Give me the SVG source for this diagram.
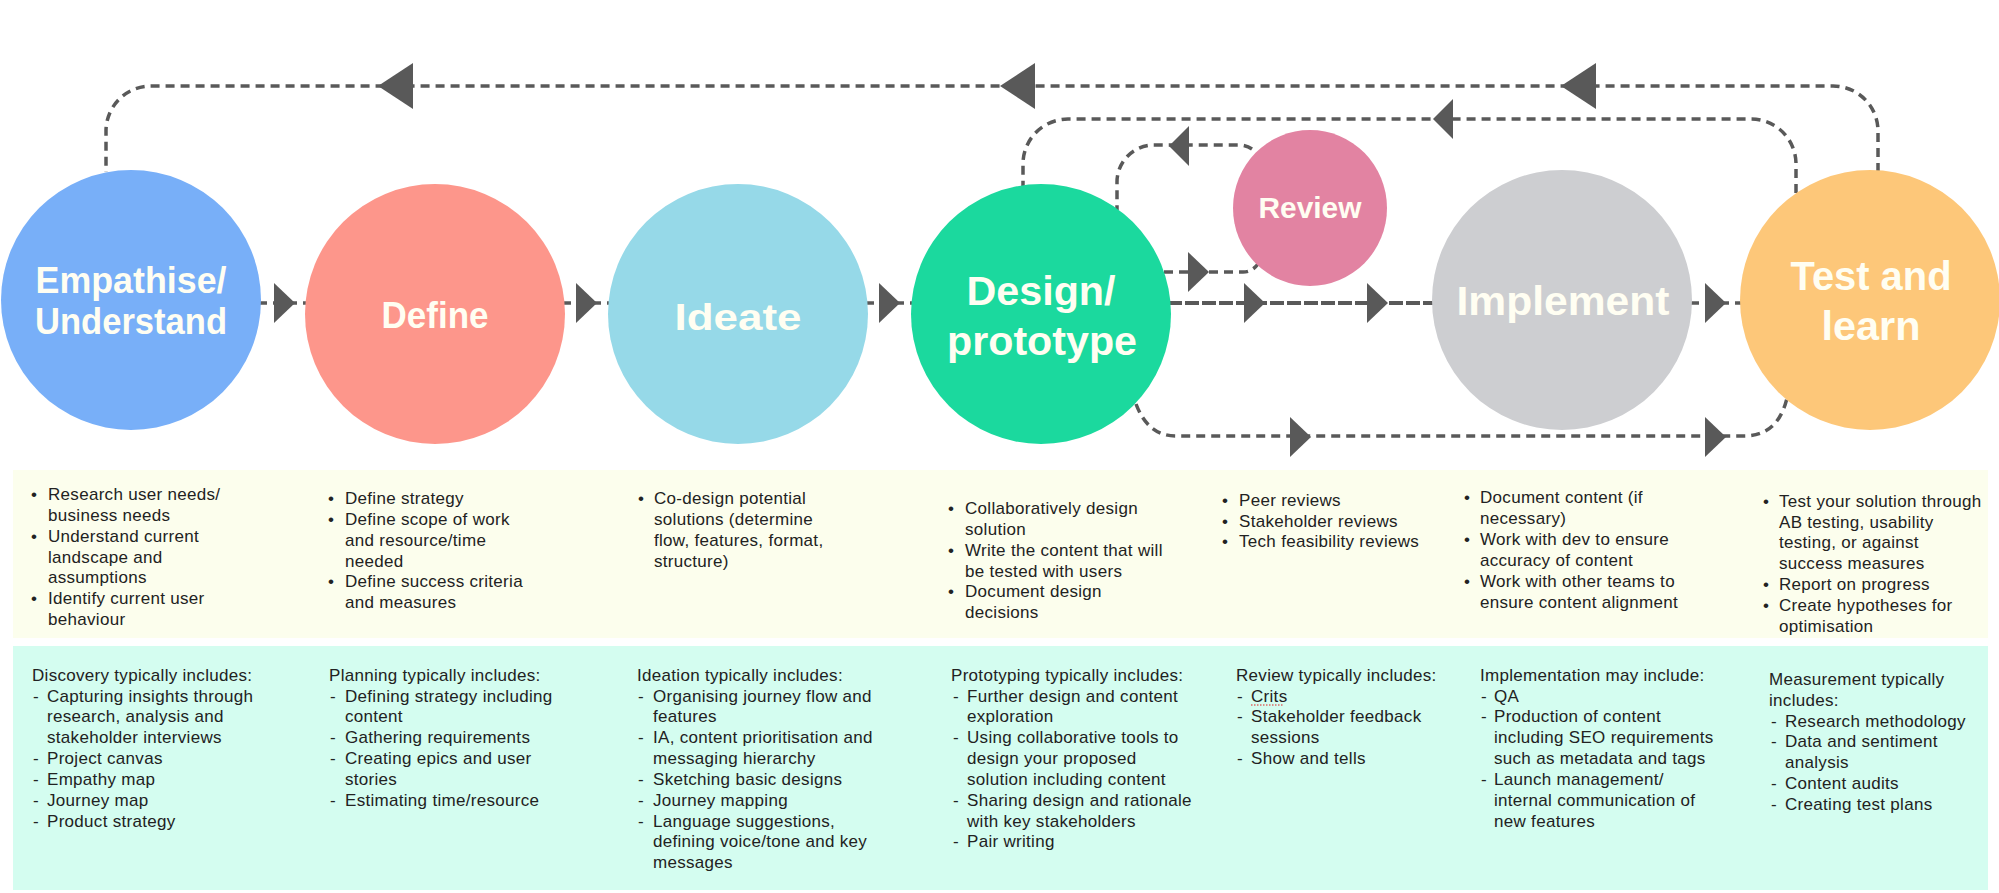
<svg xmlns="http://www.w3.org/2000/svg" xmlns:xlink="http://www.w3.org/1999/xlink" width="1999" height="893" viewBox="0 0 1999 893">
<style>
.ln{fill:none;stroke:#595959;stroke-width:3.5;stroke-dasharray:9 6}
.ln2{fill:none;stroke:#595959;stroke-width:3.8;stroke-dasharray:14 3}
.ah{fill:#595959}
.ttl{font-family:"Liberation Sans",Arial,sans-serif;font-weight:bold;fill:#FFFEF2;text-anchor:middle}
.t{font-family:"Liberation Sans",Arial,sans-serif;font-size:17px;letter-spacing:0.3px;fill:#222}
</style>
<defs>
<path id="aR" d="M0,0 L-21,-20 L-21,20 Z"/>
<path id="aL" d="M0,0 L20,-20 L20,20 Z"/>
<path id="aLB" d="M0,0 L35,-23 L35,23 Z"/>
</defs>
<rect x="0" y="0" width="1999" height="893" fill="#ffffff"/>
<rect x="13" y="470" width="1975" height="168" fill="#FCFEED"/>
<rect x="13" y="646" width="1975" height="244" fill="#D4FDF0"/>

<g id="connectors">
<path class="ln" d="M1878,172 V131 A45,45 0 0 0 1833,86 H151 A45,45 0 0 0 106,131 V172"/>
<path class="ln" d="M1796,193 V164 A45,45 0 0 0 1751,119 H1068 A45,45 0 0 0 1023,164 V186"/>
<path class="ln" d="M1252,149 Q1246,145 1238,145 H1154 A37,37 0 0 0 1117,182 V210"/>
<path class="ln" d="M1164,272 H1243 Q1252,272 1258,264"/>
<path class="ln" d="M258,303 H308 M562,303 H611 M865,303 H914 M1690,303 H1743"/>
<path class="ln2" d="M1168,303 H1435"/>
<path class="ln" d="M1136,404 Q1148,436 1176,436 H1744 Q1778,436 1787,398"/>
<use xlink:href="#aLB" class="ah" x="378" y="86"/>
<use xlink:href="#aLB" class="ah" x="1000" y="86"/>
<use xlink:href="#aLB" class="ah" x="1561" y="86"/>
<use xlink:href="#aL" class="ah" x="1433" y="119"/>
<use xlink:href="#aL" class="ah" x="1169" y="146"/>
<use xlink:href="#aR" class="ah" x="1209" y="272"/>
<use xlink:href="#aR" class="ah" x="295" y="303"/>
<use xlink:href="#aR" class="ah" x="597" y="303"/>
<use xlink:href="#aR" class="ah" x="900" y="303"/>
<use xlink:href="#aR" class="ah" x="1265" y="303"/>
<use xlink:href="#aR" class="ah" x="1388" y="303"/>
<use xlink:href="#aR" class="ah" x="1726" y="303"/>
<use xlink:href="#aR" class="ah" x="1311" y="437"/>
<use xlink:href="#aR" class="ah" x="1726" y="437"/>
</g>

<g id="node-empathise">
<circle cx="131" cy="300" r="130" fill="#78AFF8"/>
<text class="ttl" font-size="36" x="131" y="293" textLength="191" lengthAdjust="spacingAndGlyphs">Empathise/</text>
<text class="ttl" font-size="36" x="131" y="334" textLength="192" lengthAdjust="spacingAndGlyphs">Understand</text>
</g>
<g id="node-define">
<circle cx="435" cy="314" r="130" fill="#FD968B"/>
<text class="ttl" font-size="36" x="435" y="328" textLength="107" lengthAdjust="spacingAndGlyphs">Define</text>
</g>
<g id="node-ideate">
<circle cx="738" cy="314" r="130" fill="#96D9E8"/>
<text class="ttl" font-size="36" x="738" y="330" textLength="127" lengthAdjust="spacingAndGlyphs">Ideate</text>
</g>
<g id="node-design">
<circle cx="1041" cy="314" r="130" fill="#1BD99E"/>
<text class="ttl" font-size="41" x="1041" y="305" textLength="149" lengthAdjust="spacingAndGlyphs">Design/</text>
<text class="ttl" font-size="41" x="1042" y="355" textLength="190" lengthAdjust="spacingAndGlyphs">prototype</text>
</g>
<g id="node-review">
<ellipse cx="1310" cy="208" rx="77" ry="78" fill="#E283A2"/>
<text class="ttl" font-size="29" x="1310" y="218" textLength="103" lengthAdjust="spacingAndGlyphs">Review</text>
</g>
<g id="node-implement">
<circle cx="1562" cy="300" r="130" fill="#CDCED1"/>
<text class="ttl" font-size="41" x="1563" y="315" textLength="213" lengthAdjust="spacingAndGlyphs">Implement</text>
</g>
<g id="node-test">
<circle cx="1870" cy="300" r="130" fill="#FDC779"/>
<text class="ttl" font-size="40" x="1871" y="290" textLength="161" lengthAdjust="spacingAndGlyphs">Test and</text>
<text class="ttl" font-size="40" x="1871" y="340" textLength="99" lengthAdjust="spacingAndGlyphs">learn</text>
</g>

<g id="activities">
<text class="t"><tspan x="31" y="500">•</tspan><tspan x="48" y="500">Research user needs/</tspan><tspan x="48" y="521">business needs</tspan><tspan x="31" y="542">•</tspan><tspan x="48" y="542">Understand current</tspan><tspan x="48" y="563">landscape and</tspan><tspan x="48" y="583">assumptions</tspan><tspan x="31" y="604">•</tspan><tspan x="48" y="604">Identify current user</tspan><tspan x="48" y="625">behaviour</tspan></text>
<text class="t"><tspan x="328" y="504">•</tspan><tspan x="345" y="504">Define strategy</tspan><tspan x="328" y="525">•</tspan><tspan x="345" y="525">Define scope of work</tspan><tspan x="345" y="546">and resource/time</tspan><tspan x="345" y="567">needed</tspan><tspan x="328" y="587">•</tspan><tspan x="345" y="587">Define success criteria</tspan><tspan x="345" y="608">and measures</tspan></text>
<text class="t"><tspan x="638" y="504">•</tspan><tspan x="654" y="504">Co-design potential</tspan><tspan x="654" y="525">solutions (determine</tspan><tspan x="654" y="546">flow, features, format,</tspan><tspan x="654" y="567">structure)</tspan></text>
<text class="t"><tspan x="948" y="514">•</tspan><tspan x="965" y="514">Collaboratively design</tspan><tspan x="965" y="535">solution</tspan><tspan x="948" y="556">•</tspan><tspan x="965" y="556">Write the content that will</tspan><tspan x="965" y="577">be tested with users</tspan><tspan x="948" y="597">•</tspan><tspan x="965" y="597">Document design</tspan><tspan x="965" y="618">decisions</tspan></text>
<text class="t"><tspan x="1222" y="506">•</tspan><tspan x="1239" y="506">Peer reviews</tspan><tspan x="1222" y="527">•</tspan><tspan x="1239" y="527">Stakeholder reviews</tspan><tspan x="1222" y="547">•</tspan><tspan x="1239" y="547">Tech feasibility reviews</tspan></text>
<text class="t"><tspan x="1464" y="503">•</tspan><tspan x="1480" y="503">Document content (if</tspan><tspan x="1480" y="524">necessary)</tspan><tspan x="1464" y="545">•</tspan><tspan x="1480" y="545">Work with dev to ensure</tspan><tspan x="1480" y="566">accuracy of content</tspan><tspan x="1464" y="587">•</tspan><tspan x="1480" y="587">Work with other teams to</tspan><tspan x="1480" y="608">ensure content alignment</tspan></text>
<text class="t"><tspan x="1763" y="507">•</tspan><tspan x="1779" y="507">Test your solution through</tspan><tspan x="1779" y="528">AB testing, usability</tspan><tspan x="1779" y="548">testing, or against</tspan><tspan x="1779" y="569">success measures</tspan><tspan x="1763" y="590">•</tspan><tspan x="1779" y="590">Report on progress</tspan><tspan x="1763" y="611">•</tspan><tspan x="1779" y="611">Create hypotheses for</tspan><tspan x="1779" y="632">optimisation</tspan></text>
</g>

<g id="includes">
<text class="t"><tspan x="32" y="681">Discovery typically includes:</tspan><tspan x="33" y="702">-</tspan><tspan x="47" y="702">Capturing insights through</tspan><tspan x="47" y="722">research, analysis and</tspan><tspan x="47" y="743">stakeholder interviews</tspan><tspan x="33" y="764">-</tspan><tspan x="47" y="764">Project canvas</tspan><tspan x="33" y="785">-</tspan><tspan x="47" y="785">Empathy map</tspan><tspan x="33" y="806">-</tspan><tspan x="47" y="806">Journey map</tspan><tspan x="33" y="827">-</tspan><tspan x="47" y="827">Product strategy</tspan></text>
<text class="t"><tspan x="329" y="681">Planning typically includes:</tspan><tspan x="330" y="702">-</tspan><tspan x="345" y="702">Defining strategy including</tspan><tspan x="345" y="722">content</tspan><tspan x="330" y="743">-</tspan><tspan x="345" y="743">Gathering requirements</tspan><tspan x="330" y="764">-</tspan><tspan x="345" y="764">Creating epics and user</tspan><tspan x="345" y="785">stories</tspan><tspan x="330" y="806">-</tspan><tspan x="345" y="806">Estimating time/resource</tspan></text>
<text class="t"><tspan x="637" y="681">Ideation typically includes:</tspan><tspan x="638" y="702">-</tspan><tspan x="653" y="702">Organising journey flow and</tspan><tspan x="653" y="722">features</tspan><tspan x="638" y="743">-</tspan><tspan x="653" y="743">IA, content prioritisation and</tspan><tspan x="653" y="764">messaging hierarchy</tspan><tspan x="638" y="785">-</tspan><tspan x="653" y="785">Sketching basic designs</tspan><tspan x="638" y="806">-</tspan><tspan x="653" y="806">Journey mapping</tspan><tspan x="638" y="827">-</tspan><tspan x="653" y="827">Language suggestions,</tspan><tspan x="653" y="847">defining voice/tone and key</tspan><tspan x="653" y="868">messages</tspan></text>
<text class="t"><tspan x="951" y="681">Prototyping typically includes:</tspan><tspan x="953" y="702">-</tspan><tspan x="967" y="702">Further design and content</tspan><tspan x="967" y="722">exploration</tspan><tspan x="953" y="743">-</tspan><tspan x="967" y="743">Using collaborative tools to</tspan><tspan x="967" y="764">design your proposed</tspan><tspan x="967" y="785">solution including content</tspan><tspan x="953" y="806">-</tspan><tspan x="967" y="806">Sharing design and rationale</tspan><tspan x="967" y="827">with key stakeholders</tspan><tspan x="953" y="847">-</tspan><tspan x="967" y="847">Pair writing</tspan></text>
<text class="t"><tspan x="1236" y="681">Review typically includes:</tspan><tspan x="1237" y="702">-</tspan><tspan x="1251" y="702">Crits</tspan><tspan x="1237" y="722">-</tspan><tspan x="1251" y="722">Stakeholder feedback</tspan><tspan x="1251" y="743">sessions</tspan><tspan x="1237" y="764">-</tspan><tspan x="1251" y="764">Show and tells</tspan></text>
<line x1="1251" y1="705" x2="1284" y2="705" stroke="#E02020" stroke-width="1.2" stroke-dasharray="1.5 1.5"/>
<text class="t"><tspan x="1480" y="681">Implementation may include:</tspan><tspan x="1481" y="702">-</tspan><tspan x="1494" y="702">QA</tspan><tspan x="1481" y="722">-</tspan><tspan x="1494" y="722">Production of content</tspan><tspan x="1494" y="743">including SEO requirements</tspan><tspan x="1494" y="764">such as metadata and tags</tspan><tspan x="1481" y="785">-</tspan><tspan x="1494" y="785">Launch management/</tspan><tspan x="1494" y="806">internal communication of</tspan><tspan x="1494" y="827">new features</tspan></text>
<text class="t"><tspan x="1769" y="685">Measurement typically</tspan><tspan x="1769" y="706">includes:</tspan><tspan x="1771" y="727">-</tspan><tspan x="1785" y="727">Research methodology</tspan><tspan x="1771" y="747">-</tspan><tspan x="1785" y="747">Data and sentiment</tspan><tspan x="1785" y="768">analysis</tspan><tspan x="1771" y="789">-</tspan><tspan x="1785" y="789">Content audits</tspan><tspan x="1771" y="810">-</tspan><tspan x="1785" y="810">Creating test plans</tspan></text>
</g>
</svg>
